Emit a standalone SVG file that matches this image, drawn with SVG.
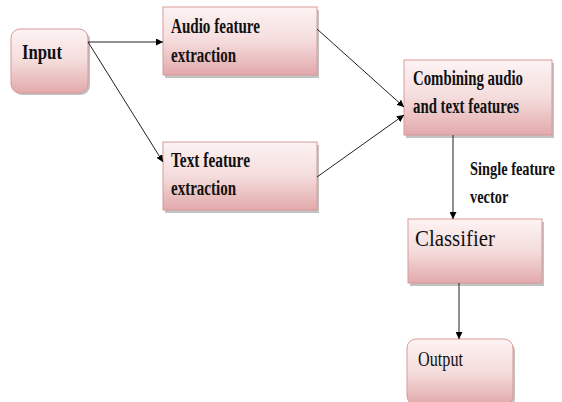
<svg xmlns="http://www.w3.org/2000/svg" width="562" height="402" viewBox="0 0 562 402">
<defs>
<linearGradient id="g" x1="0" y1="0" x2="0" y2="1">
<stop offset="0" stop-color="#fdf3f3"/>
<stop offset="0.5" stop-color="#f5dcdc"/>
<stop offset="1" stop-color="#e2a9ab"/>
</linearGradient>
<marker id="ah" viewBox="0 0 10 10" refX="10" refY="5" markerWidth="7" markerHeight="7" markerUnits="userSpaceOnUse" orient="auto">
<path d="M0,0 L10,5 L0,10 z" fill="#000"/>
</marker>
<style>
.box{fill:url(#g);stroke:#d9999a;stroke-width:1}
.sh{fill:#9a9a9a;opacity:0.6}
.t{font-family:'Liberation Serif','Times New Roman',serif;font-weight:bold;fill:#111}
.c{stroke:#222;stroke-width:1;fill:none;marker-end:url(#ah)}
</style>
</defs>
<rect width="562" height="402" fill="#fff"/>
<g id="input">
<rect class="sh" x="13" y="31" width="77" height="64" rx="9"/>
<rect class="box" x="11" y="29" width="77" height="64" rx="9"/>
<text class="t" x="22" y="59" style="font-size:21px" textLength="40" lengthAdjust="spacingAndGlyphs">Input</text>
</g>
<g id="audio">
<rect class="sh" x="165" y="10" width="154" height="68"/>
<rect class="box" x="163" y="7" width="154" height="68"/>
<text class="t" x="171" y="33" style="font-size:20px" textLength="89" lengthAdjust="spacingAndGlyphs">Audio feature</text>
<text class="t" x="171" y="62" style="font-size:20px" textLength="65" lengthAdjust="spacingAndGlyphs">extraction</text>
</g>
<g id="text">
<rect class="sh" x="165" y="145" width="154" height="68"/>
<rect class="box" x="163" y="142" width="154" height="68"/>
<text class="t" x="171" y="167" style="font-size:20px" textLength="79" lengthAdjust="spacingAndGlyphs">Text feature</text>
<text class="t" x="171" y="195" style="font-size:20px" textLength="65" lengthAdjust="spacingAndGlyphs">extraction</text>
</g>
<g id="combine">
<rect class="sh" x="406" y="63" width="148" height="75"/>
<rect class="box" x="404" y="60" width="148" height="75"/>
<text class="t" x="413" y="85" style="font-size:20px" textLength="110" lengthAdjust="spacingAndGlyphs">Combining  audio</text>
<text class="t" x="413" y="113" style="font-size:20px" textLength="106" lengthAdjust="spacingAndGlyphs">and text features</text>
</g>
<g id="classifier">
<rect class="sh" x="410" y="222" width="134" height="64"/>
<rect class="box" x="408" y="219" width="134" height="64"/>
<text class="t" x="415" y="246" style="font-size:23px;font-weight:normal" textLength="80" lengthAdjust="spacingAndGlyphs">Classifier</text>
</g>
<g id="output">
<rect class="sh" x="409" y="342" width="106" height="66" rx="9"/>
<rect class="box" x="407" y="339" width="106" height="66" rx="9"/>
<text class="t" x="418" y="366" style="font-size:21px;font-weight:normal" textLength="45" lengthAdjust="spacingAndGlyphs">Output</text>
</g>
<g id="label">
<text class="t" transform="translate(470,175) scale(0.8,1)" x="0" y="0" style="font-size:18px">Single feature</text>
<text class="t" transform="translate(470,203) scale(0.8,1)" x="0" y="0" style="font-size:18px">vector</text>
</g>
<g id="connectors">
<line class="c" x1="88" y1="42" x2="163" y2="42"/>
<line class="c" x1="88" y1="42" x2="163" y2="162"/>
<line class="c" x1="317" y1="29" x2="404" y2="107"/>
<line class="c" x1="317" y1="177" x2="404" y2="115"/>
<line class="c" x1="453" y1="135" x2="453" y2="219"/>
<line class="c" x1="459" y1="283" x2="459" y2="339"/>
</g>
</svg>
